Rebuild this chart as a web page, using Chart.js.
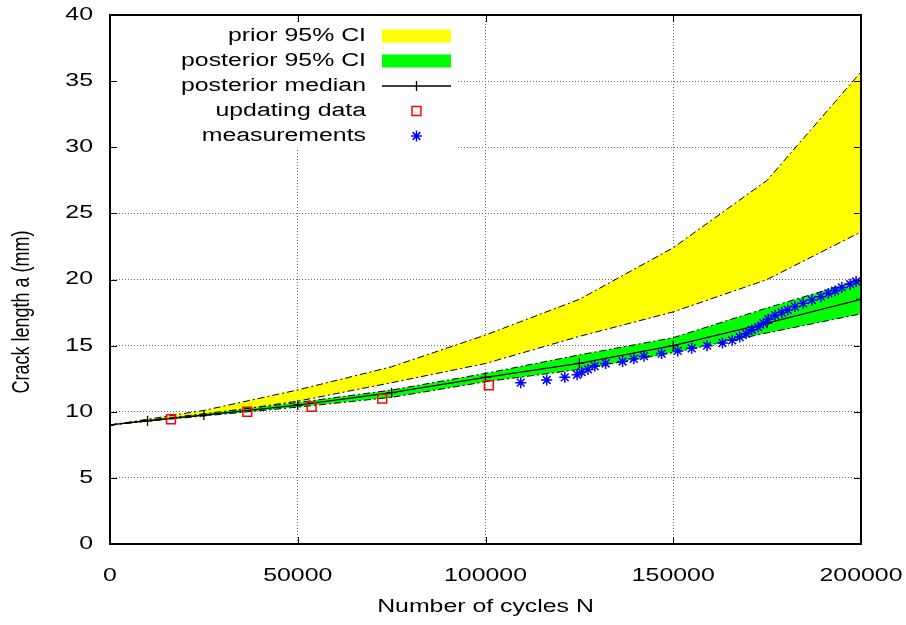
<!DOCTYPE html>
<html>
<head>
<meta charset="utf-8">
<script src="https://cdn.jsdelivr.net/npm/chart.js@4.4.0/dist/chart.umd.min.js"></script>
<style>
  html, body { margin: 0; padding: 0; background: #fff; }
  #crackChart { display: block; }
</style>
</head>
<body>
<canvas id="crackChart" width="906" height="625"></canvas>
<script>
// Band / median vertices
const cycles = [0, 10000, 25000, 50000, 75000, 100000, 125000, 150000, 175000, 200000];
const priorLower = [9.0, 9.32, 9.78, 10.8, 12.2, 13.65, 15.7, 17.55, 20.0, 23.6];
const priorUpper = [9.0, 9.43, 10.1, 11.65, 13.4, 15.8, 18.5, 22.4, 27.5, 35.7];
const postLower = [9.0, 9.28, 9.68, 10.35, 11.09, 12.27, 13.2, 14.47, 15.96, 17.4];
const postUpper = [9.0, 9.36, 9.85, 10.7, 11.64, 12.9, 14.3, 15.6, 17.85, 20.0];
const postMedian = [9.0, 9.32, 9.75, 10.5, 11.44, 12.6, 13.66, 15.0, 16.7, 18.5];

// Updating data (red squares)
const updCycles = [16250, 36570, 53700, 72500, 100900];
const updCrack = [9.43, 10.0, 10.38, 10.99, 12.0];

// Measurements (blue stars)
const measCycles = [109400, 116300, 121100, 124400, 125600, 127300, 129100, 132000, 136500, 139500,
    142200, 146900, 151200, 154900, 159000, 163100, 165700, 167700, 169400, 170900,
    172600, 174000, 175300, 177100, 178900, 180500, 182400, 184600, 186900, 189300,
    191300, 193100, 194900, 197100, 198700];
const measCrack = [12.2, 12.4, 12.6, 12.8, 13.0, 13.2, 13.45, 13.65, 13.8, 14.0,
    14.2, 14.4, 14.6, 14.8, 15.0, 15.2, 15.4, 15.65, 15.9, 16.2,
    16.4, 16.7, 17.0, 17.3, 17.5, 17.7, 17.95, 18.2, 18.45, 18.7,
    18.95, 19.15, 19.4, 19.65, 19.85];

const xTicks = [0, 50000, 100000, 150000, 200000];
const yTicks = [0, 5, 10, 15, 20, 25, 30, 35, 40];
const xTitle = "Number of cycles N";
const yTitle = "Crack length a (mm)";

const FONT = "'Liberation Sans', Arial, sans-serif";
const FONT_SIZE = 18;
const TEXT_STRETCH = 1.38; // the reference text is wider than it is tall
const dashDot = [7, 3, 2, 3];

function pts(xs, ys) {
    return xs.map((x, i) => ({ x: x, y: ys[i] }));
}

const datasets = [
    {
        data: pts(cycles, priorLower),
        borderColor: "#000", borderWidth: 1, borderDash: dashDot,
        pointRadius: 0, fill: false, order: 5,
    },
    {
        label: "prior 95% CI", kind: "band",
        data: pts(cycles, priorUpper),
        borderColor: "#000", borderWidth: 1, borderDash: dashDot,
        backgroundColor: "#ffff00",
        pointRadius: 0, fill: { target: 0 }, order: 5,
    },
    {
        data: pts(cycles, postLower),
        borderColor: "#000", borderWidth: 1, borderDash: dashDot,
        pointRadius: 0, fill: false, order: 4,
    },
    {
        label: "posterior 95% CI", kind: "band",
        data: pts(cycles, postUpper),
        borderColor: "#000", borderWidth: 1, borderDash: dashDot,
        backgroundColor: "#00ff00",
        pointRadius: 0, fill: { target: 2 }, order: 4,
    },
    {
        label: "posterior median", kind: "linepoint",
        data: pts(cycles, postMedian),
        borderColor: "#000", borderWidth: 1.3,
        pointStyle: "cross", pointRadius: 5, pointBorderWidth: 1.3,
        pointBorderColor: "#000", fill: false, order: 3,
    },
    {
        label: "updating data", kind: "point",
        data: pts(updCycles, updCrack),
        showLine: false,
        pointStyle: "rect", pointRadius: 6.3, pointBorderWidth: 1.5,
        pointBorderColor: "#ff0000", pointBackgroundColor: "rgba(0,0,0,0)",
        order: 2,
    },
    {
        label: "measurements", kind: "point",
        data: pts(measCycles, measCrack),
        showLine: false,
        pointStyle: "star", pointRadius: 5.5, pointBorderWidth: 1.5,
        pointBorderColor: "#0000ff", pointBackgroundColor: "#0000ff",
        order: 1,
    },
];

function drawMarker(ctx, style, r, x, y) {
    if (style === "cross") {
        ctx.moveTo(x - r, y); ctx.lineTo(x + r, y);
        ctx.moveTo(x, y - r); ctx.lineTo(x, y + r);
    } else if (style === "rect") {
        const s = r * Math.SQRT1_2;
        ctx.rect(x - s, y - s, 2 * s, 2 * s);
    } else if (style === "star") {
        const d = r * Math.SQRT1_2;
        ctx.moveTo(x - r, y); ctx.lineTo(x + r, y);
        ctx.moveTo(x, y - r); ctx.lineTo(x, y + r);
        ctx.moveTo(x - d, y - d); ctx.lineTo(x + d, y + d);
        ctx.moveTo(x - d, y + d); ctx.lineTo(x + d, y - d);
    }
}

// gnuplot style frame, inward ticks, y label and opaque key
const gnuplotLook = {
    id: "gnuplotLook",
    afterDatasetsDraw(chart) {
        const ctx = chart.ctx;
        const area = chart.chartArea;
        ctx.save();
        ctx.fillStyle = "#fff";
        ctx.fillRect(area.left, 22, 458 - area.left, 128);

        const textRight = 366;
        const sampleLeft = 382, sampleRight = 451;
        const sampleMid = (sampleLeft + sampleRight) / 2;
        let rowY = 36;
        ctx.font = FONT_SIZE + "px " + FONT;
        ctx.textAlign = "right";
        ctx.textBaseline = "middle";
        chart.data.datasets.forEach((ds) => {
            if (!ds.label) return;
            ctx.fillStyle = "#000";
            ctx.fillText(ds.label, textRight, rowY);
            if (ds.kind === "band") {
                ctx.fillStyle = ds.backgroundColor;
                ctx.fillRect(sampleLeft, rowY - 6.5, sampleRight - sampleLeft, 13);
            } else {
                ctx.strokeStyle = ds.kind === "linepoint" ? ds.borderColor : ds.pointBorderColor;
                ctx.lineWidth = ds.pointBorderWidth;
                ctx.beginPath();
                if (ds.kind === "linepoint") {
                    ctx.moveTo(sampleLeft, rowY);
                    ctx.lineTo(sampleRight, rowY);
                }
                drawMarker(ctx, ds.pointStyle, ds.pointRadius, sampleMid, rowY);
                ctx.stroke();
            }
            rowY += 25;
        });
        ctx.restore();
    },
    afterDraw(chart) {
        const ctx = chart.ctx;
        const area = chart.chartArea;
        const xs = chart.scales.x, ys = chart.scales.y;
        const tick = 7;
        ctx.save();
        ctx.strokeStyle = "#000";
        ctx.lineWidth = 1;
        ctx.beginPath();
        xTicks.forEach((v) => {
            const px = Math.round(xs.getPixelForValue(v)) + 0.5;
            ctx.moveTo(px, area.bottom); ctx.lineTo(px, area.bottom - tick);
            ctx.moveTo(px, area.top); ctx.lineTo(px, area.top + tick);
        });
        yTicks.forEach((v) => {
            const py = Math.round(ys.getPixelForValue(v)) + 0.5;
            ctx.moveTo(area.left, py); ctx.lineTo(area.left + tick, py);
            ctx.moveTo(area.right, py); ctx.lineTo(area.right - tick, py);
        });
        ctx.stroke();
        ctx.lineWidth = 2;
        ctx.strokeRect(area.left, area.top, area.right - area.left, area.bottom - area.top);

        // y label sits a bit below the middle of the axis, as in the original
        ctx.translate(22, 312);
        ctx.rotate(-Math.PI / 2);
        ctx.font = FONT_SIZE + "px " + FONT;
        ctx.fillStyle = "#000";
        ctx.textAlign = "center";
        ctx.textBaseline = "middle";
        ctx.fillText(yTitle, 0, 0);
        ctx.restore();
    },
};

const ctx = document.getElementById("crackChart").getContext("2d");

// widen every text run horizontally (in screen space) around its anchor
const plainFillText = ctx.fillText;
ctx.fillText = function (text, x, y) {
    const m = this.getTransform();
    const p = m.transformPoint(new DOMPoint(x, y));
    this.save();
    this.setTransform(new DOMMatrix()
        .translate(p.x, p.y).scale(TEXT_STRETCH, 1).translate(-p.x, -p.y)
        .multiply(m));
    plainFillText.apply(this, arguments);
    this.restore();
};

const crackChart = new Chart(ctx, {
    type: "line",
    data: { datasets: datasets },
    options: {
        responsive: false,
        animation: false,
        devicePixelRatio: 1,
        layout: { padding: { top: 15, right: 45, left: 0, bottom: 0 } },
        plugins: {
            legend: { display: false },
            tooltip: { enabled: false },
        },
        elements: { line: { tension: 0 } },
        scales: {
            x: {
                type: "linear",
                min: 0, max: 200000,
                afterBuildTicks: (scale) => { scale.ticks = xTicks.map((v) => ({ value: v })); },
                afterFit: (scale) => {
                    scale.height = 81;
                    scale.paddingLeft = 0;
                    scale.paddingRight = 0;
                },
                ticks: {
                    callback: (v) => String(v),
                    font: { family: FONT, size: FONT_SIZE },
                    color: "#000",
                    padding: 21,
                    maxRotation: 0,
                    autoSkip: false,
                },
                grid: { color: "#666", drawTicks: false, lineWidth: 1 },
                border: { display: false, dash: [1, 2] },
                title: {
                    display: true,
                    text: xTitle,
                    font: { family: FONT, size: FONT_SIZE },
                    color: "#000",
                    padding: { top: 0, bottom: 7 },
                },
            },
            y: {
                min: 0, max: 40,
                afterBuildTicks: (scale) => { scale.ticks = yTicks.map((v) => ({ value: v })); },
                afterFit: (scale) => {
                    scale.width = 110;
                    scale.paddingTop = 0;
                    scale.paddingBottom = 0;
                },
                ticks: {
                    font: { family: FONT, size: FONT_SIZE },
                    color: "#000",
                    padding: 17,
                },
                grid: { color: "#666", drawTicks: false, lineWidth: 1 },
                border: { display: false, dash: [1, 2] },
                title: { display: false },
            },
        },
    },
    plugins: [gnuplotLook],
});
</script>
</body>
</html>
